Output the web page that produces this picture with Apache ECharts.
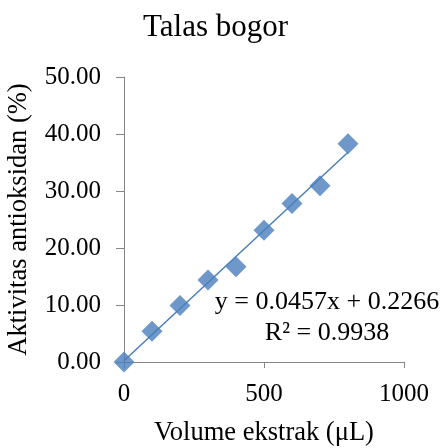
<!DOCTYPE html>
<html>
<head>
<meta charset="utf-8">
<script src="https://cdn.jsdelivr.net/npm/echarts@6/dist/echarts.min.js"></script>
<style>
  html, body { margin: 0; padding: 0; background: #fff; }
  #chart { width: 447px; height: 448px; }
</style>
</head>
<body>
<div id="chart"></div>
<script>
// Extract volume (µL) and measured antioxidant activity (%)
const volumes = [0, 100, 200, 300, 400, 500, 600, 700, 800];
const activity = [0, 5.4, 9.9, 14.4, 16.7, 23.1, 27.8, 30.9, 38.3];

// Linear fit reported for the series
const slope = 0.0457;
const intercept = 0.2266;
const rSquared = 0.9938;

const yTicks = [0, 10, 20, 30, 40, 50];
const xTicks = [0, 500, 1000];

const serif = 'Liberation Serif';
const blue = '#4a7ebb';
const axisGray = '#868686';

const points = volumes.map((v, i) => [v, activity[i]]);
const xFirst = volumes[0], xLast = volumes[volumes.length - 1];
const fitLine = [[xFirst, slope * xFirst + intercept], [xLast, slope * xLast + intercept]];

const chart = echarts.init(document.getElementById('chart'), null, { renderer: 'canvas' });
chart.setOption({
  animation: false,
  backgroundColor: '#fff',
  title: {
    text: 'Talas bogor',
    left: 138,
    top: 7,
    textStyle: { fontFamily: serif, fontSize: 31, fontWeight: 'normal', color: '#000' }
  },
  grid: {
    left: 124, right: 43, top: 77, bottom: 86,
    containLabel: false,
    outerBoundsMode: 'none'
  },
  xAxis: {
    type: 'value',
    min: xTicks[0],
    max: xTicks[xTicks.length - 1],
    interval: xTicks[1] - xTicks[0],
    name: 'Volume ekstrak (μL)',
    nameLocation: 'middle',
    nameGap: 58,
    nameTextStyle: { fontFamily: serif, fontSize: 26.5, color: '#000' },
    axisLine: { lineStyle: { color: axisGray, width: 1 } },
    axisTick: { show: true, inside: false, length: 6, lineStyle: { color: axisGray } },
    splitLine: { show: false },
    axisLabel: {
      fontFamily: serif, fontSize: 25, color: '#000', margin: 20,
      formatter: v => String(v)
    }
  },
  yAxis: {
    type: 'value',
    min: yTicks[0],
    max: yTicks[yTicks.length - 1],
    interval: yTicks[1] - yTicks[0],
    name: 'Aktivitas antioksidan (%)',
    nameLocation: 'middle',
    nameRotate: 90,
    nameGap: 91,
    nameTextStyle: { fontFamily: serif, fontSize: 26.5, color: '#000' },
    axisLine: { show: true, lineStyle: { color: axisGray, width: 1 } },
    axisTick: { show: true, inside: false, length: 8, lineStyle: { color: axisGray } },
    splitLine: { show: false },
    axisLabel: {
      fontFamily: serif, fontSize: 25, color: '#000', margin: 23,
      formatter: v => v.toFixed(2)
    }
  },
  series: [
    {
      type: 'line',
      data: fitLine,
      symbol: 'none',
      lineStyle: { color: blue, width: 1.5 },
      silent: true,
      z: 2
    },
    {
      type: 'scatter',
      data: points,
      symbol: 'diamond',
      symbolSize: 21,
      itemStyle: { color: blue },
      z: 3
    }
  ],
  graphic: [
    {
      type: 'text',
      x: 327,
      y: 287,
      style: {
        text: 'y = ' + slope + 'x + ' + intercept + '\nR² = ' + rSquared,
        font: '26px "' + serif + '"',
        fill: '#000',
        align: 'center',
        verticalAlign: 'top',
        lineHeight: 31
      }
    }
  ]
});
</script>
</body>
</html>
